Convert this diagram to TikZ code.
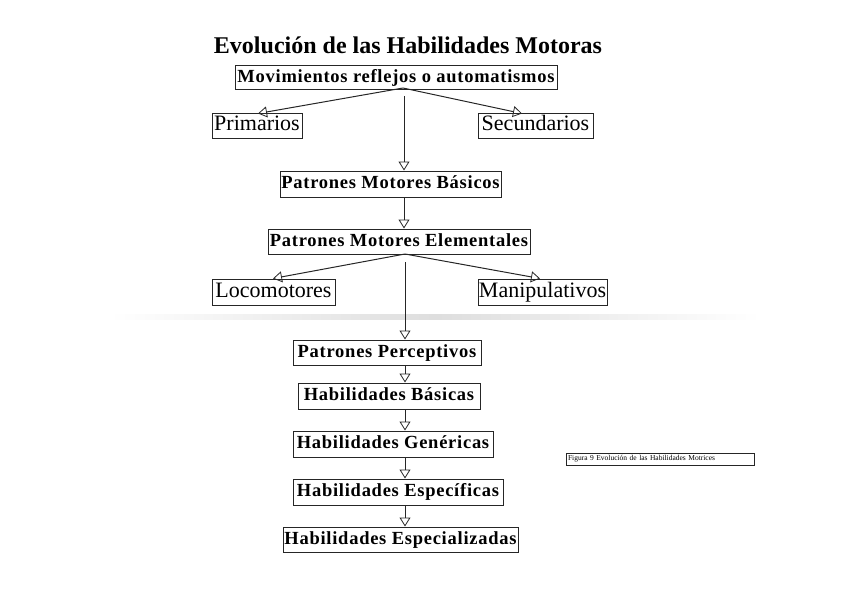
\documentclass[tikz,border=0pt]{standalone}
\usepackage{fontspec}
\setmainfont{Liberation Serif}
\newfontfamily\spaced[LetterSpace=4]{Liberation Serif}
\usetikzlibrary{arrows.meta}
\begin{document}
\begin{tikzpicture}[x=1pt,y=-1pt,
  box/.style={draw=black!85, line width=1pt, inner sep=0pt, fill=white},
  bbox/.style={box, font=\spaced\bfseries\fontsize{18.5}{20}\selectfont, text height=13pt, text depth=4pt},
  pbox/.style={box, font=\fontsize{22}{24}\selectfont, text height=15pt, text depth=5pt},
  arr/.style={draw=black!85, line width=1pt, -{Triangle[open, length=9pt, width=11pt, line width=0.8pt]}}]
\useasboundingbox (0,0) rectangle (848,599);
% faint page-break shadow
\shade[left color=white, right color=white, middle color=black!13] (110,314) rectangle (760,319);
\node[font=\bfseries\fontsize{24}{26}\selectfont] (title) at (408,45) {Evolución de las Habilidades Motoras};
\node[bbox, minimum width=322pt, minimum height=24pt] (mov) at (396,78) {Movimientos reflejos o automatismos};
\node[pbox, minimum width=90pt, minimum height=24pt] (prim) at (257,126) {Primarios};
\node[pbox, minimum width=115pt, minimum height=24pt] (sec) at (535.5,126) {Secundarios};
\node[bbox, minimum width=221pt, minimum height=26pt] (pmb) at (390.5,184) {Patrones Motores Básicos};
\node[bbox, minimum width=262pt, minimum height=25pt] (pme) at (399,241.5) {Patrones Motores Elementales};
\node[pbox, minimum width=123pt, minimum height=26pt] (loc) at (273.5,292) {Locomotores};
\node[pbox, minimum width=129pt, minimum height=26pt] (man) at (542.5,292) {Manipulativos};
\node[bbox, minimum width=188pt, minimum height=25pt] (pp) at (387,352.5) {Patrones Perceptivos};
\node[bbox, minimum width=182pt, minimum height=26pt] (hb) at (389,396) {Habilidades Básicas};
\node[bbox, minimum width=200pt, minimum height=26pt] (hg) at (393,444) {Habilidades Genéricas};
\node[bbox, minimum width=210pt, minimum height=26pt] (he) at (398,492) {Habilidades Específicas};
\node[bbox, minimum width=235pt, minimum height=25pt] (hz) at (400.5,539.5) {Habilidades Especializadas};
\node[draw=black!85, line width=0.6pt, inner sep=0pt, minimum width=188pt, minimum height=12pt, text width=186pt, align=left, font=\fontsize{7.5}{8}\selectfont] (cap) at (660,459) {\hspace{1pt}Figura 9 Evolución de las Habilidades Motrices};
% connectors
\coordinate (m0) at (403,88);
\coordinate (m1) at (404,96);
\coordinate (e0) at (405,254);
\coordinate (e1) at (405,262);
\draw[arr] (m0) -- (prim.north -| 258,0);
\draw[arr] (m0) -- (sec.north -| 522,0);
\draw[arr] (m1) -- (pmb.north -| m1);
\draw[arr] (pmb.south -| 404,0) -- (pme.north -| 404,0);
\draw[arr] (e0) -- (loc.north -| 273,0);
\draw[arr] (e0) -- (man.north -| 540,0);
\draw[arr] (e1) -- (pp.north -| e1);
\draw[arr] (pp.south -| 405,0) -- (hb.north -| 405,0);
\draw[arr] (hb.south -| 405,0) -- (hg.north -| 405,0);
\draw[arr] (hg.south -| 405,0) -- (he.north -| 405,0);
\draw[arr] (he.south -| 405,0) -- (hz.north -| 405,0);
\end{tikzpicture}
\end{document}
